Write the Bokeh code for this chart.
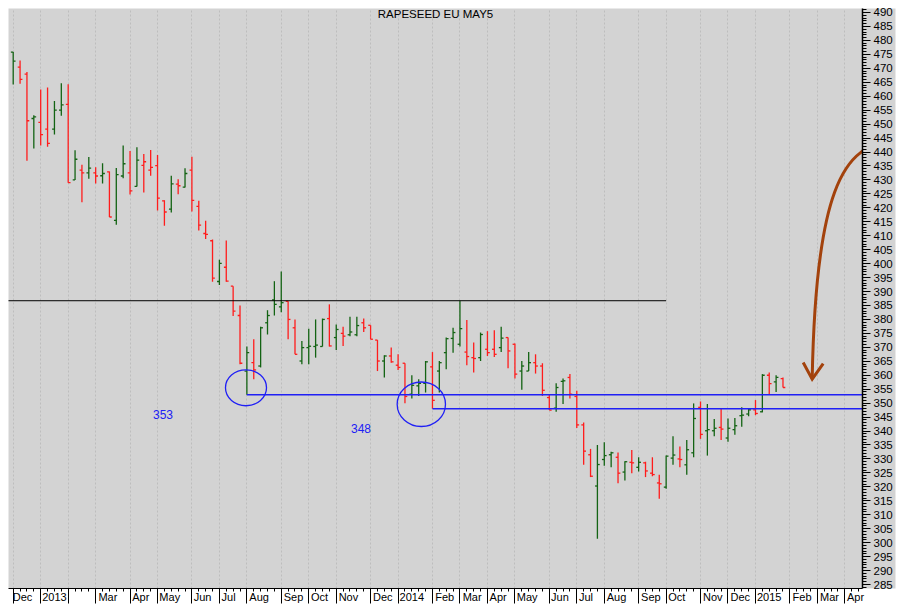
import datetime as dt
from bokeh.plotting import figure
from bokeh.models import Range1d, FixedTicker, SingleIntervalTicker, ColumnDataSource
from bokeh.core.properties import value
from bokeh.embed import file_html
from bokeh.resources import INLINE

TITLE = "RAPESEED EU MAY5"
FIRST_FRIDAY = dt.date(2012, 12, 7)      # weekly bars, dated Fridays
AXIS_END = dt.date(2015, 4, 30)

open_ = [475.8, 470.4, 467.9, 452.0, 450.6, 448.2, 448.2, 455.0, 457.1, 430.0,
         433.5, 432.5, 432.5, 431.5, 432.9, 415.5, 431.4, 432.5, 427.7, 435.2,
         433.5, 435.1, 422.5, 419.5, 428.5, 427.4, 433.5, 420.5, 410.8, 408.2,
         393.6, 398.7, 391.9, 381.4, 361.5, 364.5, 363.3, 378.8, 387.0, 384.5,
         386.5, 377.0, 365.1, 369.9, 370.3, 370.3, 380.3, 373.5, 375.0, 374.5,
         374.5, 378.8, 377.9, 372.6, 365.1, 366.9, 363.6, 364.3, 353.2, 356.2,
         357.1, 363.0, 361.5, 368.1, 373.2, 371.1, 368.3, 366.3, 366.3, 369.3,
         369.3, 369.9, 373.5, 371.1, 361.5, 361.5, 364.5, 363.3, 352.0, 348.2,
         357.8, 359.2, 352.4, 342.2, 331.5, 320.3, 329.8, 331.5, 330.6, 325.3,
         328.8, 327.0, 328.6, 324.9, 321.4, 319.9, 330.3, 330.0, 327.9, 332.2,
         348.5, 340.1, 340.1, 341.3, 337.5, 340.5, 345.5, 346.1, 347.6, 346.9,
         360.0, 357.6, 358.8]
high = [475.8, 472.8, 468.7, 453.2, 462.4, 463.1, 458.3, 464.6, 464.3, 440.6,
        435.4, 438.2, 434.5, 436.0, 433.0, 434.3, 442.3, 440.4, 441.7, 439.3,
        440.7, 438.9, 422.7, 431.5, 430.2, 434.2, 438.3, 422.5, 415.4, 408.6,
        401.4, 408.3, 391.9, 385.0, 370.3, 372.9, 377.4, 383.3, 393.7, 397.2,
        386.5, 380.0, 372.3, 376.7, 380.0, 380.3, 385.4, 378.2, 377.4, 381.0,
        381.0, 380.3, 377.9, 372.6, 367.2, 369.9, 367.5, 364.3, 360.0, 358.6,
        365.1, 368.3, 365.1, 373.5, 377.0, 386.7, 379.8, 371.7, 375.3, 375.8,
        376.1, 377.4, 373.5, 371.4, 365.1, 368.3, 367.5, 364.3, 353.2, 357.1,
        358.8, 360.4, 354.4, 343.1, 333.6, 335.0, 336.0, 332.6, 332.3, 329.2,
        333.2, 330.6, 329.0, 330.6, 324.3, 331.2, 338.1, 334.5, 336.8, 349.9,
        350.6, 349.7, 344.3, 347.9, 344.5, 344.7, 348.5, 348.2, 351.1, 360.4,
        361.0, 360.0, 359.2]
low = [464.2, 464.5, 436.9, 441.3, 442.3, 441.9, 446.3, 453.0, 429.0, 430.0,
       422.0, 430.4, 428.7, 428.7, 416.7, 413.9, 430.6, 424.8, 427.6, 425.5,
       431.5, 419.0, 413.6, 418.3, 424.9, 427.3, 418.7, 411.9, 408.8, 393.5,
       392.3, 393.5, 381.2, 363.9, 353.0, 358.6, 362.8, 374.6, 381.4, 382.6,
       372.9, 367.5, 363.9, 363.9, 366.3, 370.3, 370.3, 369.0, 370.5, 374.0,
       374.0, 375.5, 372.9, 361.5, 359.2, 364.5, 361.9, 350.0, 351.7, 352.6,
       353.8, 348.0, 353.8, 362.1, 368.1, 370.3, 363.6, 361.0, 365.1, 366.9,
       366.5, 368.3, 362.5, 358.8, 354.8, 361.5, 360.6, 352.6, 347.5, 346.9,
       349.7, 351.7, 341.1, 327.9, 323.5, 301.4, 327.6, 327.0, 321.3, 322.3,
       324.9, 325.5, 323.5, 323.8, 315.7, 319.3, 327.9, 327.0, 324.3, 330.6,
       337.2, 331.2, 338.1, 336.8, 336.2, 338.7, 341.5, 345.3, 345.7, 346.7,
       352.9, 354.0, 355.6]
close = [472.6, 466.0, 451.2, 452.6, 446.2, 443.1, 455.0, 456.9, 429.0, 437.4,
         432.5, 434.2, 431.4, 432.3, 416.7, 431.9, 435.8, 426.1, 437.1, 436.5,
         434.5, 423.5, 418.5, 428.6, 427.9, 432.3, 422.7, 413.8, 410.5, 394.8,
         400.1, 393.7, 383.0, 364.3, 368.1, 361.9, 377.0, 381.4, 385.4, 386.0,
         380.0, 367.5, 369.9, 370.4, 370.8, 380.0, 370.5, 376.4, 374.0, 375.5,
         377.8, 377.0, 372.9, 365.1, 366.9, 364.8, 362.8, 352.4, 356.4, 357.1,
         364.8, 351.0, 364.5, 373.1, 375.3, 376.7, 366.7, 366.0, 374.6, 368.1,
         367.5, 373.3, 368.7, 360.4, 363.3, 364.5, 363.3, 354.6, 347.5, 355.6,
         358.0, 353.2, 342.2, 332.8, 323.8, 328.0, 331.2, 332.2, 324.9, 329.0,
         328.6, 328.8, 325.7, 324.4, 321.1, 331.0, 331.4, 329.8, 333.3, 344.5,
         338.8, 340.5, 341.0, 340.7, 341.0, 341.9, 345.7, 347.6, 346.3, 360.0,
         357.0, 359.2, 355.6]

# month tick labels, Dec 2012 .. Apr 2015 (Feb 2013 is unlabeled in the original)
month_labels = ["Dec", "2013", "", "Mar", "Apr", "May", "Jun", "Jul", "Aug", "Sep",
                "Oct", "Nov", "Dec", "2014", "Feb", "Mar", "Apr", "May", "Jun", "Jul",
                "Aug", "Sep", "Oct", "Nov", "Dec", "2015", "Feb", "Mar", "Apr"]

support_levels = [353, 348]
support_from = [dt.date(2013, 8, 2), dt.date(2014, 2, 7)]
support_text_x = [21.8, 50.6]
resistance_level = 386.7
resistance_until = dt.date(2014, 10, 3)
circles = dict(x=[33.87, 59.38], y=[355.5, 349.6], w=[5.97, 7.03], h=[12.86, 15.96])

UP = "#136313"
DOWN = "#ff1c1c"
BLUE = "#2020f5"
BROWN = "#a3420c"
FONT = "Liberation Sans"

X0, X1 = -0.684, 123.57
PLOT_W, BORDER_L, BORDER_R = 897, 8, 35
PX_PER_WEEK = (PLOT_W - BORDER_L - BORDER_R) / (X1 - X0)

def week_index(d):
    return (d - FIRST_FRIDAY).days // 7

# weekly grid through the axis end
fridays = []
d = FIRST_FRIDAY
while d <= AXIS_END:
    fridays.append(d)
    d += dt.timedelta(days=7)
all_weeks = list(range(len(fridays)))
month_starts = [i for i, f in enumerate(fridays) if i == 0 or f.month != fridays[i - 1].month]

# helper to left-align a centered tick label inside its month cell
AW = {"D": .722, "e": .556, "c": .5, "M": .833, "a": .556, "r": .333, "A": .667, "p": .556,
      "y": .5, "J": .5, "u": .556, "n": .556, "l": .222, "g": .556, "S": .667, "O": .778,
      "t": .278, "N": .722, "o": .556, "v": .5, "F": .611, "b": .556}
LABEL_PX = 11
def left_pad(s, tick, gap=2.0, edge=2.5):
    if not s:
        return ""
    w = sum(AW.get(ch, .556) for ch in s) * LABEL_PX
    sp = .278 * LABEL_PX
    k = int(round((w + 2 * gap) / sp))
    tick_px = BORDER_L + (tick - X0) * PX_PER_WEEK
    if tick_px - (w + k * sp) / 2 < edge:      # label gets pushed inside the canvas
        k = int(round((tick_px + gap - edge) / sp))
    return "\u00a0" * k + s

overrides = {int(m): left_pad(lbl, m) for m, lbl in zip(month_starts, month_labels)}

n = len(close)
xs = list(range(n))
colors = [UP] + [UP if close[i] >= close[i - 1] else DOWN for i in range(1, n)]
HALF_TICK = 0.34
src = ColumnDataSource(dict(
    x=xs, xl=[x - HALF_TICK for x in xs], xr=[x + HALF_TICK for x in xs],
    open=open_, high=high, low=low, close=close, color=colors))

p = figure(width=PLOT_W, height=605, x_range=Range1d(X0, X1),
           y_range=Range1d(283.57, 491.43), y_axis_location="right",
           output_backend="svg", toolbar_location=None,
           min_border_left=BORDER_L, min_border_right=BORDER_R, min_border_top=8,
           min_border_bottom=15,
           background_fill_color="#d3d3d3", border_fill_color="white")
p.outline_line_color = None
p.ygrid.visible = False
p.xgrid.ticker = FixedTicker(ticks=month_starts)
p.xgrid.grid_line_color = "#bdbdbd"
p.xgrid.grid_line_dash = "2 2"
p.xgrid.grid_line_width = 1

ya = p.yaxis[0]
ya.ticker = SingleIntervalTicker(interval=5, num_minor_ticks=5)
ya.major_tick_in = 0
ya.major_tick_out = 8
ya.minor_tick_in = 0
ya.minor_tick_out = 4
ya.axis_line_width = 1.5
ya.major_tick_line_width = 1.2
ya.major_label_standoff = 3
ya.major_label_text_font = FONT
ya.major_label_text_font_size = "11.5px"
ya.major_label_text_color = "black"
try:
    ya.background_fill_color = "#d3d3d3"
except Exception:
    pass

xa = p.xaxis[0]
xa.ticker = FixedTicker(ticks=month_starts, minor_ticks=all_weeks)
xa.major_label_overrides = overrides
xa.major_tick_in = 0
xa.major_tick_out = 15
xa.minor_tick_in = 0
xa.minor_tick_out = 3
xa.major_label_standoff = -13
xa.major_label_text_font = FONT
xa.major_label_text_font_size = f"{LABEL_PX}px"
xa.major_label_text_color = "black"

# OHLC bars
p.segment(x0="x", y0="low", x1="x", y1="high", line_color="color", line_width=1.3, source=src)
p.segment(x0="xl", y0="open", x1="x", y1="open", line_color="color", line_width=1.3, source=src)
p.segment(x0="x", y0="close", x1="xr", y1="close", line_color="color", line_width=1.3, source=src)

# resistance line
p.segment(x0=[-5], y0=[resistance_level], x1=[week_index(resistance_until)],
          y1=[resistance_level], line_color="black", line_width=1)

# support lines, circles and labels
p.segment(x0=[week_index(d) for d in support_from], y0=support_levels,
          x1=[130] * len(support_levels), y1=support_levels, line_color=BLUE, line_width=1.6)
p.ellipse(x=circles["x"], y=circles["y"], width=circles["w"], height=circles["h"],
          fill_color=None, line_color=BLUE, line_width=1.3)
p.text(x=support_text_x, y=[lv - 7 for lv in support_levels],
       text=[str(lv) for lv in support_levels], text_color=BLUE,
       text_font=value(FONT), text_font_size="12px", text_align="center",
       text_baseline="middle")

# title inside the frame
p.text(x=[(X0 + X1) / 2], y=[489.3], text=[TITLE],
       text_color="black", text_font=value(FONT), text_font_size="11.5px",
       text_align="center", text_baseline="middle")

# curved arrow
p.bezier(x0=[128.66], y0=[443.2], x1=[116.25], y1=[358.6], cx0=[120.37], cy0=[445.0],
         cx1=[116.73], cy1=[422.9], line_color=BROWN, line_width=3)
p.line(x=[114.94, 116.25, 117.85], y=[364.54, 358.6, 364.2], line_color=BROWN,
       line_width=3, line_join="miter")

open("out.html", "w").write(file_html(p, INLINE))
